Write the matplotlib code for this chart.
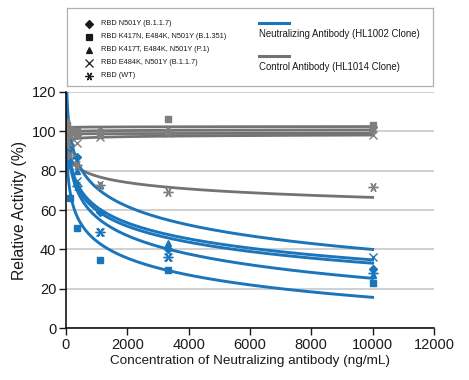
import numpy as np
import matplotlib
matplotlib.use('Agg')
import matplotlib.pyplot as plt
from matplotlib.lines import Line2D

plt.rcParams['font.family'] = ['Liberation Sans', 'DejaVu Sans']

# concentrations (3-fold dilution from 10000 ng/mL)
conc = [4.57, 13.7, 41.2, 123.5, 370.4, 1111, 3333, 10000]

variant_labels = ['RBD N501Y (B.1.1.7)',
                  'RBD K417N, E484K, N501Y (B.1.351)',
                  'RBD K417T, E484K, N501Y (P.1)',
                  'RBD E484K, N501Y (B.1.1.7)',
                  'RBD (WT)']

# neutralizing antibody (HL1002), relative activity %
neut_n501y = [102, 99, 95, 93, 87, 59, 40, 30]
neut_b1351 = [104, 95, 88, 66, 51, 34.6, 29.5, 23]
neut_p1 = [105, 100, 98, 92, 80, 72.7, 43, 27]
neut_e484k = [98, 100, 92, 85, 75, 49, 36.3, 36.3]
neut_wt = [100, 96, 90, 83, 72, 49, 36, 28]

# control antibody (HL1014)
ctrl_n501y = [100, 101, 99, 100, 98, 100, 100, 102]
ctrl_b1351 = [105, 98, 103, 101, 100, 99, 106.5, 103]
ctrl_p1 = [97, 102, 99, 98, 100, 98, 100, 101]
ctrl_e484k = [93, 96, 95, 97, 94, 97, 99, 98]
ctrl_wt = [100, 98, 93, 88, 83, 72.7, 69.3, 71.5]

# logarithmic trendlines: y = a + b*ln(x)
neut_trend_a = [142.4, 129.8, 165.2, 140.7, 149.6]
neut_trend_b = [-11.7, -12.4, -13.6, -11.7, -13.5]
ctrl_trend_a = [98.9, 101.5, 98.1, 93.5, 109.7]
ctrl_trend_b = [0.2, 0.1, 0.1, 0.5, -4.7]

blue = '#1b75bb'
grey = '#737373'
grey_pt = '#7f7f7f'

markers = ['D', 's', '^', 'x', (6, 2, 90)]
msizes = [4.5, 4.5, 5, 6, 7]

neut = [neut_n501y, neut_b1351, neut_p1, neut_e484k, neut_wt]
ctrl = [ctrl_n501y, ctrl_b1351, ctrl_p1, ctrl_e484k, ctrl_wt]


def main():
    fig = plt.figure(figsize=(4.69, 3.80), dpi=100)
    ax = fig.add_axes([0.1407, 0.1368, 0.7846, 0.6211])

    xs = np.geomspace(1.5, 10000, 400)
    for a, b in zip(ctrl_trend_a, ctrl_trend_b):
        ax.plot(xs, a + b * np.log(xs), color=grey, lw=2.0, zorder=3)
    for a, b in zip(neut_trend_a, neut_trend_b):
        ax.plot(xs, a + b * np.log(xs), color=blue, lw=2.1, zorder=4)

    for vals, m, ms in zip(neut, markers, msizes):
        ax.plot(conc, vals, ls='none', marker=m, ms=ms, color=blue,
                mew=1.0, zorder=5)
    for vals, m, ms in zip(ctrl, markers, msizes):
        ax.plot(conc, vals, ls='none', marker=m, ms=ms, color=grey_pt,
                mew=1.0, zorder=5)

    ax.set_xlim(0, 12000)
    ax.set_ylim(0, 120)
    ax.set_xticks(range(0, 12001, 2000))
    ax.set_yticks(range(0, 121, 20))
    ax.grid(axis='y', color='#c8c8c8', lw=1.2, zorder=0)
    ax.set_axisbelow(True)
    for s in ['top', 'right']:
        ax.spines[s].set_visible(False)
    for s in ['left', 'bottom']:
        ax.spines[s].set_linewidth(1.1)
        ax.spines[s].set_zorder(6)
    ax.tick_params(direction='out', length=5, width=1.0, labelsize=10.5,
                   pad=2, colors='#1a1a1a')
    ax.set_xlabel('Concentration of Neutralizing antibody (ng/mL)',
                  fontsize=9.7, labelpad=2, color='#1a1a1a')
    ax.set_ylabel('Relative Activity (%)', fontsize=11.3, labelpad=3,
                  color='#1a1a1a')

    # legend box
    lg = fig.add_axes([0.143, 0.774, 0.780, 0.205])
    lg.set_xlim(0, 1)
    lg.set_ylim(0, 1)
    lg.set_xticks([])
    lg.set_yticks([])
    for s in lg.spines.values():
        s.set_color('#b0b0b0')
        s.set_linewidth(0.9)

    ys = [0.795, 0.628, 0.462, 0.295, 0.128]
    for y, m, ms, lab in zip(ys, markers, msizes, variant_labels):
        lg.plot([0.060], [y], ls='none', marker=m, ms=ms * 0.85, color='#1a1a1a',
                mew=0.9)
        lg.text(0.093, y, lab, fontsize=5.3, va='center', ha='left',
                color='#1a1a1a')

    lg.add_line(Line2D([0.525, 0.607], [0.801, 0.801], color=blue, lw=2.2))
    lg.text(0.525, 0.667, 'Neutralizing Antibody (HL1002 Clone)', fontsize=6.9,
            va='center', ha='left', color='#1a1a1a')
    lg.add_line(Line2D([0.525, 0.607], [0.385, 0.385], color=grey, lw=2.2))
    lg.text(0.525, 0.244, 'Control Antibody (HL1014 Clone)', fontsize=6.9,
            va='center', ha='left', color='#1a1a1a')

    fig.savefig('out.png', dpi=100)


if __name__ == '__main__':
    main()
